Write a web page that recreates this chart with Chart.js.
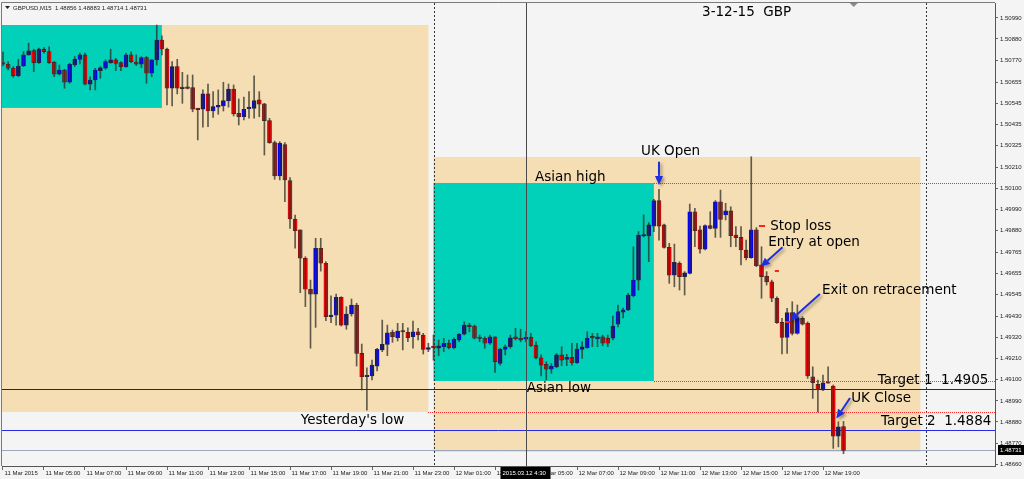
<!DOCTYPE html>
<html>
<head>
<meta charset="utf-8">
<title>GBPUSD M15 - 3-12-15</title>
<script src="https://cdn.jsdelivr.net/npm/chart.js@4.4.1/dist/chart.umd.min.js"></script>
<style>
  html, body { margin: 0; padding: 0; background: #f4f4f4; }
  #wrap { width: 1024px; height: 479px; }
</style>
</head>
<body>
<div id="wrap"><canvas id="chart" width="1024" height="479"></canvas></div>
<script>
// M15 bars, 11 Mar 2015 03:00 -> 12 Mar 2015 20:00 (bar index = x value)
const opens = [
  1.50757, 1.50748, 1.50727, 1.50689, 1.50739, 1.50797, 1.50819, 1.50757, 1.50827, 1.50814,
  1.50759, 1.50696, 1.50718, 1.50654, 1.50744, 1.50774, 1.50797, 1.50644, 1.50666, 1.50715,
  1.50727, 1.50757, 1.50771, 1.50757, 1.50736, 1.50797, 1.50760, 1.50748, 1.50783, 1.50701,
  1.50771, 1.50875, 1.50828, 1.50623, 1.50736, 1.50623, 1.50623, 1.50626, 1.50513, 1.50513,
  1.50593, 1.50504, 1.50524, 1.50530, 1.50556, 1.50619, 1.50492, 1.50474, 1.50516, 1.50518,
  1.50562, 1.50541, 1.50454, 1.50339, 1.50165, 1.50328, 1.50140, 1.49940, 1.49883, 1.49735,
  1.49573, 1.49547, 1.49787, 1.49709, 1.49430, 1.49438, 1.49531, 1.49386, 1.49444, 1.49491,
  1.49238, 1.49116, 1.49121, 1.49172, 1.49256, 1.49285, 1.49348, 1.49320, 1.49356, 1.49348,
  1.49325, 1.49351, 1.49334, 1.49259, 1.49270, 1.49265, 1.49273, 1.49291, 1.49268, 1.49308,
  1.49338, 1.49386, 1.49381, 1.49317, 1.49317, 1.49291, 1.49324, 1.49186, 1.49259, 1.49273,
  1.49325, 1.49318, 1.49312, 1.49322, 1.49282, 1.49215, 1.49181, 1.49156, 1.49168, 1.49230,
  1.49207, 1.49218, 1.49189, 1.49259, 1.49268, 1.49320, 1.49315, 1.49325, 1.49317, 1.49318,
  1.49391, 1.49453, 1.49465, 1.49539, 1.49621, 1.49851, 1.49851, 1.49903, 1.50036, 1.49909,
  1.49792, 1.49647, 1.49709, 1.49639, 1.49656, 1.49978, 1.49883, 1.49783, 1.49905, 1.49891,
  1.50030, 1.49961, 1.49982, 1.49856, 1.49844, 1.49778, 1.49738, 1.49883, 1.49700, 1.49642,
  1.49612, 1.49526, 1.49400, 1.49322, 1.49451, 1.49343, 1.49421, 1.49395, 1.49116, 1.49076,
  1.49047, 1.49085, 1.49068, 1.48806, 1.48856
];
const highs = [
  1.50812, 1.50762, 1.50736, 1.50774, 1.50814, 1.50858, 1.50827, 1.50832, 1.50835, 1.50840,
  1.50762, 1.50744, 1.50722, 1.50753, 1.50788, 1.50806, 1.50806, 1.50683, 1.50727, 1.50736,
  1.50771, 1.50827, 1.50779, 1.50762, 1.50806, 1.50814, 1.50797, 1.50788, 1.50788, 1.50774,
  1.50953, 1.50896, 1.50832, 1.50762, 1.50774, 1.50706, 1.50692, 1.50692, 1.50518, 1.50614,
  1.50645, 1.50605, 1.50614, 1.50654, 1.50645, 1.50640, 1.50567, 1.50577, 1.50605, 1.50687,
  1.50605, 1.50544, 1.50466, 1.50347, 1.50344, 1.50339, 1.50156, 1.49961, 1.49883, 1.49743,
  1.49621, 1.49839, 1.49839, 1.49717, 1.49539, 1.49548, 1.49534, 1.49482, 1.49522, 1.49500,
  1.49287, 1.49163, 1.49203, 1.49265, 1.49412, 1.49386, 1.49360, 1.49395, 1.49395, 1.49372,
  1.49407, 1.49369, 1.49343, 1.49291, 1.49334, 1.49308, 1.49317, 1.49308, 1.49320, 1.49343,
  1.49403, 1.49395, 1.49386, 1.49334, 1.49325, 1.49334, 1.49325, 1.49265, 1.49282, 1.49334,
  1.49369, 1.49364, 1.49351, 1.49343, 1.49299, 1.49230, 1.49195, 1.49186, 1.49238, 1.49273,
  1.49233, 1.49291, 1.49291, 1.49299, 1.49351, 1.49343, 1.49343, 1.49334, 1.49334, 1.49433,
  1.49491, 1.49475, 1.49552, 1.49794, 1.49874, 1.49961, 1.49921, 1.50043, 1.50095, 1.49914,
  1.49813, 1.49809, 1.49717, 1.49665, 1.50018, 1.49996, 1.49903, 1.49909, 1.49978, 1.50036,
  1.50091, 1.50022, 1.50004, 1.49900, 1.49900, 1.49830, 1.50265, 1.49895, 1.49795, 1.49665,
  1.49621, 1.49534, 1.49421, 1.49473, 1.49508, 1.49491, 1.49430, 1.49403, 1.49168, 1.49099,
  1.49125, 1.49168, 1.49073, 1.48881, 1.48883
];
const lows = [
  1.50739, 1.50718, 1.50680, 1.50683, 1.50736, 1.50795, 1.50709, 1.50753, 1.50806, 1.50753,
  1.50683, 1.50692, 1.50623, 1.50649, 1.50736, 1.50750, 1.50640, 1.50614, 1.50614, 1.50675,
  1.50722, 1.50753, 1.50715, 1.50715, 1.50732, 1.50757, 1.50741, 1.50730, 1.50649, 1.50683,
  1.50744, 1.50797, 1.50536, 1.50530, 1.50593, 1.50544, 1.50619, 1.50500, 1.50353, 1.50419,
  1.50422, 1.50471, 1.50487, 1.50504, 1.50524, 1.50478, 1.50431, 1.50457, 1.50466, 1.50466,
  1.50474, 1.50274, 1.50335, 1.50147, 1.50144, 1.50030, 1.49891, 1.49787, 1.49555, 1.49482,
  1.49265, 1.49374, 1.49668, 1.49409, 1.49398, 1.49386, 1.49381, 1.49364, 1.49433, 1.49172,
  1.49047, 1.48942, 1.49099, 1.49146, 1.49247, 1.49226, 1.49296, 1.49303, 1.49256, 1.49299,
  1.49265, 1.49308, 1.49235, 1.49247, 1.49203, 1.49226, 1.49247, 1.49261, 1.49261, 1.49299,
  1.49334, 1.49351, 1.49313, 1.49299, 1.49265, 1.49285, 1.49139, 1.49177, 1.49230, 1.49265,
  1.49308, 1.49299, 1.49299, 1.49273, 1.49209, 1.49121, 1.49099, 1.49134, 1.49163, 1.49174,
  1.49174, 1.49177, 1.49186, 1.49212, 1.49265, 1.49273, 1.49273, 1.49278, 1.49273, 1.49308,
  1.49376, 1.49423, 1.49461, 1.49533, 1.49569, 1.49846, 1.49717, 1.49874, 1.49830, 1.49787,
  1.49604, 1.49586, 1.49569, 1.49543, 1.49653, 1.49795, 1.49761, 1.49778, 1.49888, 1.49844,
  1.49844, 1.49935, 1.49795, 1.49795, 1.49700, 1.49726, 1.49735, 1.49691, 1.49526, 1.49595,
  1.49508, 1.49395, 1.49235, 1.49238, 1.49334, 1.49339, 1.49386, 1.49108, 1.49003, 1.48933,
  1.49043, 1.49082, 1.48742, 1.48750, 1.48714
];
const closes = [
  1.50748, 1.50727, 1.50689, 1.50739, 1.50797, 1.50818, 1.50757, 1.50827, 1.50814, 1.50757,
  1.50696, 1.50718, 1.50654, 1.50748, 1.50774, 1.50797, 1.50644, 1.50666, 1.50718, 1.50730,
  1.50762, 1.50771, 1.50753, 1.50736, 1.50797, 1.50762, 1.50748, 1.50783, 1.50701, 1.50771,
  1.50875, 1.50828, 1.50623, 1.50736, 1.50623, 1.50621, 1.50622, 1.50513, 1.50511, 1.50593,
  1.50504, 1.50527, 1.50534, 1.50558, 1.50619, 1.50489, 1.50474, 1.50513, 1.50518, 1.50558,
  1.50539, 1.50454, 1.50339, 1.50165, 1.50335, 1.50144, 1.49940, 1.49879, 1.49735, 1.49573,
  1.49547, 1.49787, 1.49709, 1.49430, 1.49438, 1.49531, 1.49386, 1.49444, 1.49491, 1.49238,
  1.49116, 1.49123, 1.49177, 1.49259, 1.49285, 1.49346, 1.49325, 1.49355, 1.49350, 1.49320,
  1.49351, 1.49334, 1.49259, 1.49268, 1.49268, 1.49278, 1.49291, 1.49268, 1.49312, 1.49338,
  1.49386, 1.49377, 1.49317, 1.49316, 1.49291, 1.49324, 1.49195, 1.49261, 1.49273, 1.49320,
  1.49315, 1.49309, 1.49322, 1.49278, 1.49215, 1.49177, 1.49156, 1.49172, 1.49230, 1.49203,
  1.49218, 1.49189, 1.49261, 1.49273, 1.49317, 1.49319, 1.49325, 1.49291, 1.49291, 1.49381,
  1.49456, 1.49465, 1.49543, 1.49621, 1.49856, 1.49854, 1.49909, 1.50036, 1.49903, 1.49792,
  1.49647, 1.49714, 1.49639, 1.49659, 1.49978, 1.49879, 1.49783, 1.49905, 1.49891, 1.50030,
  1.49938, 1.49982, 1.49853, 1.49842, 1.49778, 1.49738, 1.49883, 1.49696, 1.49639, 1.49612,
  1.49526, 1.49398, 1.49322, 1.49451, 1.49343, 1.49421, 1.49391, 1.49120, 1.49085, 1.49047,
  1.49085, 1.49082, 1.48806, 1.48855, 1.48731
];

const yTicks = [
  1.50990, 1.50880, 1.50770, 1.50655, 1.50545, 1.50435, 1.50325, 1.50210, 1.50100, 1.49990, 1.49880,
  1.49765, 1.49655, 1.49545, 1.49430, 1.49320, 1.49210, 1.49100, 1.48990, 1.48880, 1.48770, 1.48660
];
const tickIndex = [0, 8, 16, 24, 32, 40, 48, 56, 64, 72, 80, 88, 96, 104, 112, 120, 128, 136, 144, 152, 160];
const tickLabels = [
  '11 Mar 2015', '11 Mar 05:00', '11 Mar 07:00', '11 Mar 09:00', '11 Mar 11:00', '11 Mar 13:00',
  '11 Mar 15:00', '11 Mar 17:00', '11 Mar 19:00', '11 Mar 21:00', '11 Mar 23:00', '12 Mar 01:00',
  '12 Mar 03:00', '12 Mar 05:00', '12 Mar 07:00', '12 Mar 09:00', '12 Mar 11:00', '12 Mar 13:00',
  '12 Mar 15:00', '12 Mar 17:00', '12 Mar 19:00'
];

const lastPrice = 1.48731;
const crossIndex = 102;
const crossLabel = '2015.03.12 4:30';
const header = 'GBPUSD,M15  1.48856 1.48883 1.48714 1.48731';

// drawn objects, in bar index / price units
const boxes = [
  { x0: -1, x1: 83, y0: 1.50953, y1: 1.48932, color: '#f5deb3' },
  { x0: -1, x1: 31, y0: 1.50953, y1: 1.50520, color: '#00d1b8' },
  { x0: 84, x1: 179, y0: 1.50264, y1: 1.48723, color: '#f5deb3' },
  { x0: 84, x1: 127, y0: 1.50128, y1: 1.49094, color: '#00d1b8' }
];
const redLevels = [
  { x0: 127, price: 1.50128 },
  { x0: 127, price: 1.49094 },
  { x0: 83, price: 1.48932 }
];
const blueLevels = [
  { price: 1.4905, color: '#1a1aa8' },
  { price: 1.4884, color: '#2a2ae6' },
  { price: lastPrice, color: '#9aa7b8' }
];
const daySeparators = [84, 180];
const orderMarks = [
  { x0: 147.5, x1: 148.7, price: 1.49903 },
  { x0: 150.6, x1: 151.4, price: 1.49670 },
  { x0: 152.6, x1: 153.6, price: 1.49404 }
];
const arrows = [
  { x0: 128, y0: 1.50239, x1: 128, y1: 1.50118 },
  { x0: 152.1, y0: 1.49792, x1: 147.85, y1: 1.49691 },
  { x0: 159.4, y0: 1.49548, x1: 153.56, y1: 1.49409 },
  { x0: 165.27, y0: 1.49005, x1: 162.6, y1: 1.48898 }
];
const notes = [
  { x: 136.4, y: 1.51016, text: '3-12-15  GBP' },
  { x: 124.5, y: 1.50290, text: 'UK Open' },
  { x: 103.8, y: 1.50159, text: 'Asian high' },
  { x: 149.7, y: 1.49903, text: 'Stop loss' },
  { x: 149.3, y: 1.49815, text: 'Entry at open' },
  { x: 159.8, y: 1.49569, text: 'Exit on retracement' },
  { x: 102.2, y: 1.49057, text: 'Asian low' },
  { x: 170.7, y: 1.49094, text: 'Target 1  1.4905' },
  { x: 165.5, y: 1.49005, text: 'UK Close' },
  { x: 58.1, y: 1.48890, text: "Yesterday's low" },
  { x: 171.3, y: 1.48880, text: 'Target 2  1.4884' }
];

const wickData = opens.map((o, i) => ({ x: i, y: [lows[i], highs[i]] }));
const bodyData = opens.map((o, i) => ({ x: i, y: [Math.min(o, closes[i]), Math.max(o, closes[i])] }));
const bodyColors = opens.map((o, i) => closes[i] > o ? '#0000ff' : '#ff0000');

const overlay = {
  id: 'overlay',
  beforeDraw(chart) {
    const { ctx, chartArea: a, scales: { x, y } } = chart;
    ctx.save();
    ctx.fillStyle = '#f4f4f4';
    ctx.fillRect(0, 0, chart.width, chart.height);
    ctx.beginPath();
    ctx.rect(a.left, a.top, a.right - a.left, a.bottom - a.top);
    ctx.clip();

    boxes.forEach(b => {
      const l = x.getPixelForValue(b.x0), r = x.getPixelForValue(b.x1);
      const t = y.getPixelForValue(b.y0), btm = y.getPixelForValue(b.y1);
      ctx.fillStyle = b.color;
      ctx.fillRect(l, t, r - l, btm - t);
    });

    ctx.lineWidth = 1;
    ctx.strokeStyle = '#333';
    ctx.setLineDash([2, 2]);
    daySeparators.forEach(d => {
      const px = Math.round(x.getPixelForValue(d)) + 0.5;
      ctx.beginPath(); ctx.moveTo(px, a.top); ctx.lineTo(px, a.bottom); ctx.stroke();
    });
    ctx.setLineDash([]);

    // dotted red levels, one pixel on / one off
    ctx.fillStyle = '#ff2a2a';
    redLevels.forEach(l => {
      const py = Math.round(y.getPixelForValue(l.price));
      for (let px = Math.round(x.getPixelForValue(l.x0)); px < a.right; px += 2) {
        ctx.fillRect(px, py, 1, 1);
      }
    });

    blueLevels.forEach(l => {
      const py = Math.round(y.getPixelForValue(l.price)) + 0.5;
      ctx.strokeStyle = l.color;
      ctx.beginPath(); ctx.moveTo(a.left, py); ctx.lineTo(a.right, py); ctx.stroke();
    });
    ctx.restore();
  },
  afterDatasetsDraw(chart) {
    const { ctx, chartArea: a, scales: { x, y } } = chart;
    ctx.save();

    // crosshair
    const cx = Math.round(x.getPixelForValue(crossIndex)) + 0.5;
    ctx.strokeStyle = '#4a4a4a';
    ctx.lineWidth = 1;
    ctx.beginPath(); ctx.moveTo(cx, a.top); ctx.lineTo(cx, a.bottom); ctx.stroke();

    // frame
    ctx.strokeStyle = '#7a7a7a';
    ctx.beginPath();
    ctx.moveTo(a.left - 0.5, a.bottom); ctx.lineTo(a.left - 0.5, a.top - 0.5); ctx.lineTo(a.right, a.top - 0.5);
    ctx.stroke();

    // order marks
    ctx.strokeStyle = '#ff2020';
    ctx.lineWidth = 2;
    orderMarks.forEach(m => {
      const py = Math.round(y.getPixelForValue(m.price));
      ctx.beginPath(); ctx.moveTo(x.getPixelForValue(m.x0), py); ctx.lineTo(x.getPixelForValue(m.x1), py); ctx.stroke();
    });

    // arrows
    ctx.shadowColor = 'rgba(0,0,0,0.35)';
    ctx.shadowBlur = 3;
    ctx.shadowOffsetX = 2;
    ctx.shadowOffsetY = 2;
    ctx.strokeStyle = '#1f2fe0';
    ctx.fillStyle = '#1f2fe0';
    ctx.lineWidth = 2;
    arrows.forEach(ar => {
      const x0 = x.getPixelForValue(ar.x0), y0 = y.getPixelForValue(ar.y0);
      const x1 = x.getPixelForValue(ar.x1), y1 = y.getPixelForValue(ar.y1);
      const ang = Math.atan2(y1 - y0, x1 - x0);
      const hl = 9, hw = 4;
      const bx = x1 - hl * Math.cos(ang), by = y1 - hl * Math.sin(ang);
      ctx.beginPath(); ctx.moveTo(x0, y0); ctx.lineTo(bx, by); ctx.stroke();
      ctx.beginPath();
      ctx.moveTo(x1, y1);
      ctx.lineTo(bx + hw * Math.sin(ang), by - hw * Math.cos(ang));
      ctx.lineTo(bx - hw * Math.sin(ang), by + hw * Math.cos(ang));
      ctx.closePath(); ctx.fill();
    });
    ctx.shadowColor = 'transparent';

    // notes
    ctx.fillStyle = '#000';
    ctx.font = '13.5px "DejaVu Sans"';
    ctx.textAlign = 'left';
    ctx.textBaseline = 'middle';
    notes.forEach(n => ctx.fillText(n.text, x.getPixelForValue(n.x), y.getPixelForValue(n.y)));

    // header
    ctx.fillStyle = '#222';
    ctx.beginPath(); ctx.moveTo(5, 6); ctx.lineTo(10, 6); ctx.lineTo(7.5, 9); ctx.closePath(); ctx.fill();
    ctx.font = '6px "Liberation Sans"';
    ctx.fillText(header, 13, 8);

    // chart shift marker
    const sx = x.getPixelForValue(166);
    ctx.fillStyle = '#8a8a8a';
    ctx.beginPath(); ctx.moveTo(sx - 4, a.top); ctx.lineTo(sx + 4, a.top); ctx.lineTo(sx, a.top + 4); ctx.closePath(); ctx.fill();

    // last price label
    const py = Math.round(y.getPixelForValue(lastPrice));
    ctx.fillStyle = '#000';
    ctx.fillRect(a.right + 3, py - 5, 26, 10);
    ctx.fillStyle = '#fff';
    ctx.fillText(lastPrice.toFixed(5), a.right + 5, py);

    // crosshair time label
    ctx.fillStyle = '#000';
    ctx.fillRect(cx - 26, a.bottom + 1, 50, 12);
    ctx.fillStyle = '#fff';
    ctx.fillText(crossLabel, cx - 24, a.bottom + 7);
    ctx.restore();
  }
};

new Chart(document.getElementById('chart'), {
  type: 'bar',
  data: {
    datasets: [
      {
        label: 'wick', data: wickData, backgroundColor: 'rgba(45,45,40,0.75)',
        barThickness: 1, grouped: false, borderWidth: 0, minBarLength: 1
      },
      {
        label: 'body', data: bodyData, backgroundColor: bodyColors, borderColor: '#2a2a2a',
        borderWidth: 0.6, borderSkipped: false, barThickness: 4, grouped: false, minBarLength: 1.5
      }
    ]
  },
  options: {
    responsive: false,
    animation: false,
    events: [],
    layout: { padding: { left: 2, top: 3, right: 0, bottom: 0 } },
    plugins: { legend: { display: false }, tooltip: { enabled: false } },
    scales: {
      x: {
        type: 'linear', min: -0.195, max: 193.56, bounds: 'data', offset: false,
        grid: { drawOnChartArea: false, drawTicks: true, tickLength: 4, color: '#666', offset: false },
        border: { display: true, color: '#555' },
        ticks: {
          autoSkip: false, maxRotation: 0, minRotation: 0, align: 'start', labelOffset: 1.5, padding: 0,
          color: '#222', font: { family: 'Liberation Sans', size: 6 },
          callback: v => { const k = tickIndex.indexOf(v); return k >= 0 ? tickLabels[k] : ''; }
        },
        afterBuildTicks: s => { s.ticks = tickIndex.map(v => ({ value: v })); },
        afterFit: s => { s.height = 13; s.paddingLeft = 0; s.paddingRight = 0; }
      },
      y: {
        type: 'linear', position: 'right', min: 1.48650, max: 1.51068, bounds: 'data',
        grid: { drawOnChartArea: false, drawTicks: true, tickLength: 3, color: '#666' },
        border: { display: true, color: '#555' },
        ticks: {
          padding: 2, color: '#222', font: { family: 'Liberation Sans', size: 6 },
          callback: v => v.toFixed(5)
        },
        afterBuildTicks: s => { s.ticks = yTicks.map(v => ({ value: v })); },
        afterFit: s => { s.width = 29; s.paddingTop = 0; s.paddingBottom = 0; }
      }
    }
  },
  plugins: [overlay]
});
</script>
</body>
</html>
